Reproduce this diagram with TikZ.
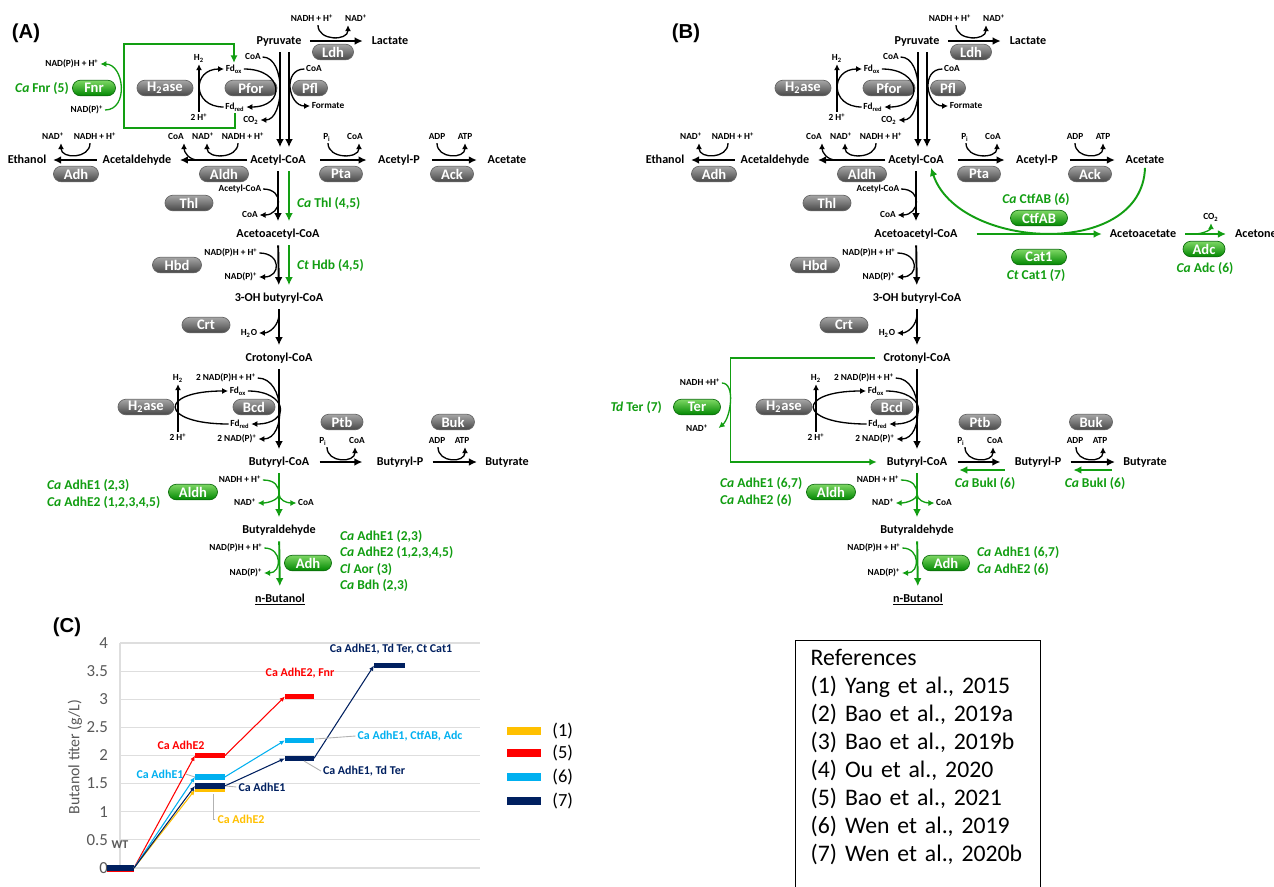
\documentclass[tikz,border=0pt]{standalone}
\usepackage{fontspec}
\setmainfont{Carlito}
\newfontfamily\panelfont{Liberation Sans}
\usepackage{tikz}
\usetikzlibrary{arrows.meta,positioning,calc}
\definecolor{pwgreen}{RGB}{18,158,18}
\definecolor{gpilltop}{RGB}{125,215,100}
\definecolor{gpillbot}{RGB}{0,135,0}
\definecolor{ser1}{RGB}{255,192,0}
\definecolor{ser5}{RGB}{255,0,0}
\definecolor{ser6}{RGB}{0,176,240}
\definecolor{ser7}{RGB}{0,32,96}
\definecolor{axisgray}{RGB}{89,89,89}
\newcommand{\metfont}{\fontsize{6.9}{8}\selectfont\bfseries}
\newcommand{\coffont}{\fontsize{5.3}{6}\selectfont\bfseries}
\newcommand{\enzfont}{\fontsize{8.3}{9}\selectfont\bfseries}
\newcommand{\grnfont}{\fontsize{7.7}{9.3}\selectfont\bfseries}
\newcommand{\org}[1]{\textit{#1}}
\newcommand{\plus}{\textsuperscript{+}}

% shared part of panels (A) and (B), #1 = name prefix
\newcommand{\pathway}[1]{%
  % metabolites
  \node[met] (#1pyr) at (279,41) {Pyruvate};
  \node[met] (#1lac) at (390,41) {Lactate};
  \node[met] (#1acc) at (278,160) {Acetyl-CoA};
  \node[met] (#1eth) at (27,160) {Ethanol};
  \node[met] (#1ald) at (137,160) {Acetaldehyde};
  \node[met] (#1acp) at (399,160) {Acetyl-P};
  \node[met] (#1ace) at (507,160) {Acetate};
  \node[met] (#1aac) at (278,234) {Acetoacetyl-CoA};
  \node[met] (#1hbc) at (279,298) {3-OH butyryl-CoA};
  \node[met] (#1crc) at (279,358) {Crotonyl-CoA};
  \node[met] (#1buc) at (279,462) {Butyryl-CoA};
  \node[met] (#1bup) at (400,462) {Butyryl-P};
  \node[met] (#1but) at (507,462) {Butyrate};
  \node[met] (#1bal) at (279,530) {Butyraldehyde};
  \node[met] (#1buo) at (280,599) {\underline{n-Butanol}};
  % enzymes
  \node[enz, minimum width=8.2mm] (#1ldh) at (333,52) {Ldh};
  \node[enz, minimum width=11.2mm] (#1h2a) at (165,88) {H\textsubscript{2}ase};
  \node[enz, minimum width=10.4mm] (#1pfor) at (251,88) {Pfor};
  \node[enz, minimum width=7mm] (#1pfl) at (310,88) {Pfl};
  \node[enz, minimum width=9mm] (#1adh) at (76,174) {Adh};
  \node[enz, minimum width=9.8mm] (#1aldh) at (224,174) {Aldh};
  \node[enz, minimum width=8.6mm] (#1pta) at (341,174) {Pta};
  \node[enz, minimum width=8.6mm] (#1ack) at (452,174) {Ack};
  \node[enz, minimum width=9.6mm] (#1thl) at (189,203) {Thl};
  \node[enz, minimum width=9.8mm] (#1hbd) at (177,265) {Hbd};
  \node[enz, minimum width=9.6mm] (#1crt) at (206,325) {Crt};
  \node[enz, minimum width=11.2mm] (#1h2b) at (146,407) {H\textsubscript{2}ase};
  \node[enz, minimum width=8.4mm] (#1bcd) at (254,407) {Bcd};
  \node[enz, minimum width=8.4mm] (#1ptb) at (342,422) {Ptb};
  \node[enz, minimum width=8.6mm] (#1buk) at (453,422) {Buk};
  \node[genz, minimum width=9.8mm] (#1galdh) at (193,492) {Aldh};
  \node[genz, minimum width=9.4mm] (#1gadh) at (308,563) {Adh};
  % main reactions
  \draw[rx, shorten <=1.3mm, shorten >=1.4mm] (#1pyr) -- (#1lac);
  \draw[rx, shorten <=0.15mm, shorten >=1.3mm] (#1acc) -- (#1ald);
  \draw[rx, shorten <=0.75mm, shorten >=0.95mm] (#1ald) -- (#1eth);
  \draw[rx, shorten <=2.5mm, shorten >=1.9mm] (#1acc) -- (#1acp);
  \draw[rx, shorten <=2.1mm, shorten >=1.75mm] (#1acp) -- (#1ace);
  \draw[rx, shorten <=1.65mm, shorten >=2.45mm] (#1buc) -- (#1bup);
  \draw[rx, shorten <=1.45mm, shorten >=1.25mm] (#1bup) -- (#1but);
  \draw[vx] ([xshift=0.2mm]#1pyr.south) -- ([xshift=0.4mm]#1acc.north);
  \draw[vx] ([xshift=2mm]#1pyr.south) -- ([xshift=2.2mm]#1acc.north);
  \draw[vx] (#1acc) -- (#1aac);
  \draw[vx] (#1aac) -- (#1hbc);
  \draw[vx] (#1hbc) -- (#1crc);
  \draw[vx] (#1crc) -- (#1buc);
  \draw[vx, draw=pwgreen] (#1buc) -- (#1bal);
  \draw[vx, draw=pwgreen] (#1bal) -- (#1buo);
  % Ldh
  \node[cof] (#1ldh-i) at (312,19) {NADH + H\plus};
  \node[cof] (#1ldh-o) at (356,19) {NAD\plus};
  \draw[cx] ($(#1ldh-i.south)+(6,0)$) .. controls +(0,16) and +(0,16) .. ($(#1ldh-o.south)+(-8,0)$);
  % Pfor, H2ase, Pfl
  \node[cof] (#1pf-coa) at (253,57) {CoA};
  \node[cof] (#1pf-ox) at (234,69) {Fd\textsubscript{ox}};
  \node[cof] (#1pf-red) at (235,107) {Fd\textsubscript{red}};
  \node[cof] (#1pf-co2) at (251,120) {CO\textsubscript{2}};
  \node[cof] (#1h2a-h2) at (199,58) {H\textsubscript{2}};
  \node[cof] (#1h2a-hp) at (199,118) {2 H\plus};
  \draw[cx] (#1pf-coa.east) .. controls +(24,0) and +(24,0) .. (#1pf-co2.east);
  \draw[cx] (#1pf-ox.east) .. controls +(40,0) and +(40,0) .. (#1pf-red.east);
  \draw[cx] (#1h2a-hp) -- (#1h2a-h2);
  \draw[cx] (#1pf-red.west) .. controls +(-32,0) and +(-32,0) .. (#1pf-ox.west);
  \node[cof] (#1pfl-coa) at (314,69) {CoA};
  \node[cof] (#1pfl-for) at (328,106) {Formate};
  \draw[cx] (#1pfl-coa.west) .. controls +(-22,0) and +(-22,0) .. (#1pfl-for.west);
  % Adh, Aldh
  \node[cof] (#1adh-o) at (53,137) {NAD\plus};
  \node[cof] (#1adh-i) at (95,137) {NADH + H\plus};
  \draw[cx] ($(#1adh-i.south)+(-5,0)$) .. controls +(0,16) and +(0,16) .. ($(#1adh-o.south)+(8,0)$);
  \node[cof] (#1aldh-c) at (176,137) {CoA};
  \node[cof] (#1aldh-o) at (203,137) {NAD\plus};
  \node[cof] (#1aldh-i) at (243,137) {NADH + H\plus};
  \coordinate (#1aldh-j) at (198,160);
  \draw[cx] ($(#1aldh-i.south)+(-5,0)$) .. controls +(0,16) and +(0,16) .. ($(#1aldh-o.south)+(4,0)$);
  \draw[cx] (#1aldh-j) .. controls +(-9,0) and +(0,9) .. ($(#1aldh-c.south)+(8,0)$);
  % Pta, Ack
  \node[cof] (#1pta-i) at (327,137) {P\textsubscript{i}};
  \node[cof] (#1pta-o) at (355,137) {CoA};
  \draw[cx] ($(#1pta-i.south)+(1,0)$) .. controls +(0,16) and +(0,16) .. ($(#1pta-o.south)+(4,0)$);
  \node[cof] (#1ack-i) at (437,137) {ADP};
  \node[cof] (#1ack-o) at (465,137) {ATP};
  \draw[cx] (#1ack-i.south) .. controls +(0,16) and +(0,16) .. (#1ack-o.south);
  % Thl, Hbd, Crt
  \node[cof] (#1thl-i) at (240,189) {Acetyl-CoA};
  \node[cof] (#1thl-o) at (250,215) {CoA};
  \draw[cx] (#1thl-i.east) .. controls +(22,0) and +(22,0) .. (#1thl-o.east);
  \node[cof] (#1hbd-i) at (231,253) {NAD(P)H + H\plus};
  \node[cof] (#1hbd-o) at (241,277) {NAD(P)\plus};
  \draw[cx] (#1hbd-i.east) .. controls +(22,0) and +(22,0) .. (#1hbd-o.east);
  \node[cof] (#1crt-o) at (249,333) {H\textsubscript{2}O};
  \coordinate (#1crt-j) at (279,314);
  \draw[cx] (#1crt-j) .. controls +(0,12) and +(10,0) .. (#1crt-o.east);
  % Bcd
  \node[cof] (#1bcd-i) at (226,378) {2 NAD(P)H + H\plus};
  \node[cof] (#1bcd-ox) at (238,391) {Fd\textsubscript{ox}};
  \node[cof] (#1bcd-red) at (240,424) {Fd\textsubscript{red}};
  \node[cof] (#1bcd-o) at (237,439) {2 NAD(P)\plus};
  \node[cof] (#1h2b-h2) at (178,378) {H\textsubscript{2}};
  \node[cof] (#1h2b-hp) at (178,438) {2 H\plus};
  \draw[cx] (#1bcd-i.east) .. controls +(28,0) and +(28,0) .. (#1bcd-o.east);
  \draw[cx] (#1bcd-ox.east) .. controls +(40,0) and +(40,0) .. (#1bcd-red.east);
  \draw[cx] (#1h2b-hp) -- (#1h2b-h2);
  \draw[cx] (#1bcd-red.west) .. controls +(-70,0) and +(-70,0) .. (#1bcd-ox.west);
  % Ptb, Buk
  \node[cof] (#1ptb-i) at (323,441) {P\textsubscript{i}};
  \node[cof] (#1ptb-o) at (357,441) {CoA};
  \draw[cx] ($(#1ptb-i.south)+(4,0)$) .. controls +(0,16) and +(0,16) .. ($(#1ptb-o.south)+(-2,0)$);
  \node[cof] (#1buk-i) at (437,441) {ADP};
  \node[cof] (#1buk-o) at (462,441) {ATP};
  \draw[cx] ($(#1buk-i.south)+(1,0)$) .. controls +(0,16) and +(0,16) .. ($(#1buk-o.south)+(3,0)$);
  % green Aldh, Adh
  \node[cof] (#1galdh-i) at (240,480) {NADH + H\plus};
  \node[cof] (#1galdh-o) at (245,503) {NAD\plus};
  \node[cof] (#1galdh-c) at (306,503) {CoA};
  \coordinate (#1galdh-j) at (279,494);
  \draw[gcx, -] (#1galdh-i.east) .. controls +(12,0) and +(0,-8) .. (#1galdh-j);
  \draw[gcx] (#1galdh-j) .. controls +(0,6) and +(10,0) .. (#1galdh-o.east);
  \draw[gcx] (#1galdh-j) .. controls +(0,6) and +(-10,0) .. (#1galdh-c.west);
  \node[cof] (#1gadh-i) at (236,548) {NAD(P)H + H\plus};
  \node[cof] (#1gadh-o) at (246,573) {NAD(P)\plus};
  \draw[gcx] (#1gadh-i.east) .. controls +(18,0) and +(18,0) .. (#1gadh-o.east);
}

\begin{document}
\begin{tikzpicture}[x=0.2mm, y=-0.2mm, >=Latex,
  met/.style={font=\metfont, inner sep=1pt, text height=5pt, text depth=1.5pt},
  cof/.style={font=\coffont, inner sep=0.8pt, text height=4pt, text depth=1pt},
  pill/.style={rounded corners=1.55mm, minimum height=3.1mm, inner sep=0pt,
               text=white, font=\enzfont, line width=0.4pt},
  enz/.style={pill, top color=black!35, bottom color=black!72, draw=black!60},
  genz/.style={pill, top color=gpilltop, bottom color=gpillbot, draw=pwgreen!70!black},
  glab/.style={font=\grnfont, text=pwgreen, inner sep=1pt},
  rx/.style={line width=1.1pt, -{Latex[length=4.6pt,width=4.4pt]}},
  vx/.style={rx, shorten <=0.7mm, shorten >=1mm},
  gx/.style={rx, draw=pwgreen},
  gbox/.style={draw=pwgreen, line width=0.9pt, -{Latex[length=4.2pt,width=4pt]}},
  cx/.style={line width=0.75pt, -{Latex[length=3.4pt,width=3.4pt]}},
  gcx/.style={cx, draw=pwgreen},
  panel/.style={font={\panelfont\fontsize{11.5}{13}\selectfont\bfseries}},
  ticklab/.style={font=\fontsize{9.6}{11}\selectfont, text=axisgray, anchor=east, inner sep=1pt},
  axtitle/.style={font=\fontsize{9}{11}\selectfont, text=axisgray},
  ann/.style={font=\fontsize{6.8}{8}\selectfont\bfseries, inner sep=1pt},
  gridln/.style={draw=black!13, line width=0.6pt},
  dbar/.style={line width=3pt},
  dln/.style={line width=0.6pt, -{Latex[length=3pt,width=2.6pt]}},
  lead/.style={draw=black!30, line width=0.5pt},
  legbar/.style={minimum width=6.8mm, minimum height=1.6mm, inner sep=0pt},
  legtxt/.style={font=\fontsize{10.5}{12}\selectfont, inner sep=1pt}]
\useasboundingbox (0,0) rectangle (1274,887);
\clip (0,0) rectangle (1274,887);
\fill[white] (0,0) rectangle (1274,887);

% (A)
\node[panel] (a-lbl) at (26,33) {(A)};
\pathway{a-}
\node[genz, minimum width=8.6mm] (a-fnr) at (94,88) {Fnr};
\node[glab] (a-fnr-t) at (42,88) {\org{Ca} Fnr (5)};
\node[cof] (a-fnr-o) at (72,64) {NAD(P)H + H\plus};
\node[cof] (a-fnr-i) at (87,110) {NAD(P)\plus};
\draw[gcx] (a-fnr-i.east) .. controls +(24,0) and +(24,0) .. (a-fnr-o.east);
\coordinate (a-fnr-bl) at (124,128);
\coordinate (a-fnr-tl) at (124,44);
\draw[gbox] (a-pf-red.south) |- (a-fnr-bl) -- (a-fnr-tl) -| (a-pf-ox.north);
\draw[vx, draw=pwgreen] ([xshift=2.2mm]a-acc.south) -- ([xshift=2.2mm]a-aac.north);
\draw[vx, draw=pwgreen] ([xshift=2.2mm]a-aac.south) -- ([xshift=2mm]a-hbc.north);
\node[glab, anchor=west] (a-thl-t) at (295,203) {\org{Ca} Thl (4,5)};
\node[glab, anchor=west] (a-hbd-t) at (295,265) {\org{Ct} Hdb (4,5)};
\node[glab, anchor=west, align=left] (a-aldh-t) at (45,494) {\org{Ca} AdhE1 (2,3)\\\org{Ca} AdhE2 (1,2,3,4,5)};
\node[glab, anchor=west, align=left] (a-adh-t) at (338,561) {\org{Ca} AdhE1 (2,3)\\\org{Ca} AdhE2 (1,2,3,4,5)\\\org{Cl} Aor (3)\\\org{Ca} Bdh (2,3)};

% (B)
\node[panel] (b-lbl) at (686,33) {(B)};
\begin{scope}[shift={(638,0)}]
\pathway{b-}
\end{scope}
\node[genz, minimum width=11.4mm] (b-ctf) at (1039,218) {CtfAB};
\node[glab] (b-ctf-t) at (1036,199) {\org{Ca} CtfAB (6)};
\node[genz, minimum width=11mm] (b-cat) at (1039,257) {Cat1};
\node[glab] (b-cat-t) at (1036,275) {\org{Ct} Cat1 (7)};
\node[met] (b-aca) at (1143,234) {Acetoacetate};
\node[met, anchor=west] (b-acn) at (1233,234) {Acetone};
\node[genz, minimum width=8.4mm] (b-adc) at (1204,249) {Adc};
\node[glab] (b-adc-t) at (1205,268) {\org{Ca} Adc (6)};
\node[cof] (b-adc-co2) at (1211,217) {CO\textsubscript{2}};
\draw[gx, shorten <=3.4mm, shorten >=1.2mm] (b-aac) -- (b-aca);
\draw[gx, shorten <=1.4mm, shorten >=1.4mm] (b-aca) -- (b-acn);
\coordinate (b-adc-j) at (1194,234);
\draw[gcx] (b-adc-j) .. controls +(10,0) and +(0,6) .. (b-adc-co2.south);
\draw[gx] (b-ace.south) .. controls +(-3,92) and +(27,82) .. ($(b-acc.south)+(15,0)$);
\node[genz, minimum width=9.4mm] (b-ter) at (697,407) {Ter};
\node[glab, anchor=east] (b-ter-t) at (664,407) {\org{Td} Ter (7)};
\node[cof] (b-ter-i) at (700,383) {NADH +H\plus};
\node[cof] (b-ter-o) at (697,429) {NAD\plus};
\draw[gcx] (b-ter-i.east) .. controls +(14,0) and +(12,-10) .. ($(b-ter-o.east)+(9,-1)$);
\draw[gbox, shorten <=1.3mm, shorten >=1.6mm] (b-crc.west) -- ++(-151,0) |- (b-buc.west);
\draw[gx, shorten <=1.6mm, shorten >=2mm] ([yshift=-1.6mm]b-bup.west) -- ([yshift=-1.6mm]b-buc.east);
\draw[gx, shorten <=1.8mm, shorten >=2mm] ([yshift=-1.6mm]b-but.west) -- ([yshift=-1.6mm]b-bup.east);
\node[glab] (b-buk1-t) at (985,483) {\org{Ca} BukI (6)};
\node[glab] (b-buk2-t) at (1095,483) {\org{Ca} BukI (6)};
\node[glab, anchor=west, align=left] (b-aldh-t) at (718,492) {\org{Ca} AdhE1 (6,7)\\\org{Ca} AdhE2 (6)};
\node[glab, anchor=west, align=left] (b-adh-t) at (975,561) {\org{Ca} AdhE1 (6,7)\\\org{Ca} AdhE2 (6)};

% (C)
\node[panel] (c-lbl) at (67,627) {(C)};
\begin{scope}[shift={(0,868)}, yscale=-56.25]
  \draw[gridln] (120,0) -- (120,4);
  \foreach \v [count=\i] in {0,0.5,1,1.5,2,2.5,3,3.5,4} {
    \draw[gridln] (120,\v) -- (480,\v);
    \node[ticklab] (tick\i) at (110,\v) {\v};
  }
  \draw[dbar, ser5] (107,-0.03) -- (134,-0.03);
  \draw[dbar, ser7] (107,0) -- (134,0);
  \draw[dln, ser1] (134,0) -- (195,1.39);
  \draw[dbar, ser1] (195,1.39) -- (225,1.39);
  \draw[dln, ser5] (134,0) -- (195,2);
  \draw[dbar, ser5] (195,2) -- (225,2);
  \draw[dln, ser5] (225,2) -- (285,3.05);
  \draw[dbar, ser5] (285,3.05) -- (314,3.05);
  \draw[dln, ser6] (134,0) -- (195,1.62);
  \draw[dbar, ser6] (195,1.62) -- (225,1.62);
  \draw[dln, ser6] (225,1.62) -- (285,2.27);
  \draw[dbar, ser6] (285,2.27) -- (314,2.27);
  \draw[dln, ser7] (134,0) -- (195,1.46);
  \draw[dbar, ser7] (195,1.46) -- (225,1.46);
  \draw[dln, ser7] (225,1.46) -- (285,1.95);
  \draw[dbar, ser7] (285,1.95) -- (314,1.95);
  \draw[dln, ser7] (314,1.95) -- (374,3.6);
  \draw[dbar, ser7] (374,3.6) -- (405,3.6);
\end{scope}
\node[axtitle, rotate=90] (c-ylab) at (75,757) {Butanol titer (g/L)};
\node[axtitle, anchor=north] (c-xlab) at (300,881) {Gene modification};
\node[ann, text=axisgray] (c-wt) at (120,845) {WT};
\node[ann, text=ser5] (c-l5a) at (181,745) {Ca AdhE2};
\node[ann, text=ser6] (c-l6a) at (160,774) {Ca AdhE1};
\node[ann, text=ser7] (c-l7a) at (262,787) {Ca AdhE1};
\node[ann, text=ser1] (c-l1a) at (241,819) {Ca AdhE2};
\node[ann, text=ser5] (c-l5b) at (300,673) {Ca AdhE2, Fnr};
\node[ann, text=ser6] (c-l6b) at (410,736) {Ca AdhE1, CtfAB, Adc};
\node[ann, text=ser7] (c-l7b) at (364,771) {Ca AdhE1, Td Ter};
\node[ann, text=ser7] (c-l7c) at (391,649) {Ca AdhE1, Td Ter, Ct Cat1};
\coordinate (c-b6a) at (195,777);
\coordinate (c-b7a) at (226,786);
\coordinate (c-b1a) at (213,794);
\coordinate (c-b6b) at (315,739);
\coordinate (c-b7b) at (304,761);
\draw[lead] (c-l6a.east) -- (c-b6a);
\draw[lead] (c-l7a.west) -- (c-b7a);
\draw[lead] (c-l1a.west) -| (c-b1a);
\draw[lead] (c-l6b.west) -- (c-b6b);
\draw[lead] (c-l7b.west) -- (c-b7b);
% legend
\node[legbar, fill=ser1] (leg1b) at (524,731) {};
\node[legbar, fill=ser5] (leg5b) at (524,753) {};
\node[legbar, fill=ser6] (leg6b) at (524,777) {};
\node[legbar, fill=ser7] (leg7b) at (524,801) {};
\node[legtxt, right=1.8mm of leg1b] (leg1) {(1)};
\node[legtxt, right=1.8mm of leg5b] (leg5) {(5)};
\node[legtxt, right=1.8mm of leg6b] (leg6) {(6)};
\node[legtxt, right=1.8mm of leg7b] (leg7) {(7)};

% references
\node[draw, line width=0.8pt, anchor=north west, text width=43mm, inner xsep=3mm, inner ysep=1.8mm,
      align=left, font=\fontsize{13.5}{15.9}\selectfont] (refs) at (795,640)
  {References\\(1) Yang et al., 2015\\(2) Bao et al., 2019a\\(3) Bao et al., 2019b\\(4) Ou et al., 2020\\(5) Bao et al., 2021\\(6) Wen et al., 2019\\(7) Wen et al., 2020b\\ \mbox{}};
\end{tikzpicture}
\end{document}
